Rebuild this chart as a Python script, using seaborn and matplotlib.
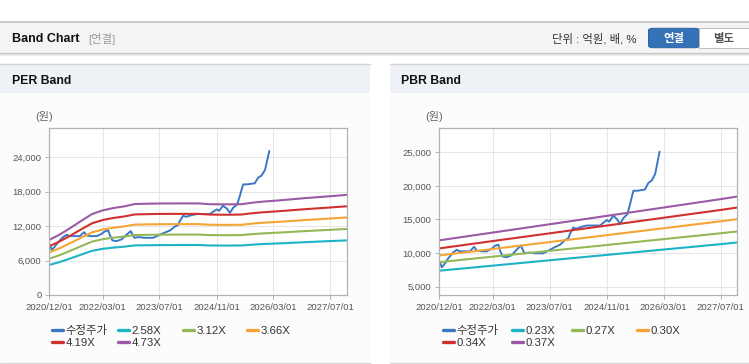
import numpy as np
import pandas as pd
import matplotlib
matplotlib.use("Agg")
import matplotlib.pyplot as plt
import seaborn as sns
from matplotlib.patches import Rectangle, FancyBboxPatch
from matplotlib.lines import Line2D

# ---------------- data ----------------
price_dates = ["2020-12-01", "2020-12-07", "2020-12-22", "2021-01-13", "2021-02-15", "2021-03-28",
               "2021-04-28", "2021-05-25", "2021-07-07", "2021-08-19", "2021-09-25", "2021-10-16",
               "2021-11-28", "2022-01-10", "2022-02-22", "2022-03-19", "2022-04-19", "2022-05-04",
               "2022-05-25", "2022-06-28", "2022-08-10", "2022-09-22", "2022-10-28", "2022-11-28",
               "2023-01-01", "2023-02-28", "2023-05-07", "2023-07-04", "2023-08-16", "2023-09-28",
               "2023-11-10", "2023-12-07", "2023-12-22", "2024-01-19", "2024-02-13", "2024-04-01",
               "2024-05-13", "2024-06-25", "2024-09-04", "2024-10-01", "2024-11-01", "2024-11-22",
               "2024-12-25", "2025-01-25", "2025-02-22", "2025-03-22", "2025-04-25", "2025-05-16",
               "2025-06-01", "2025-06-16", "2025-07-19", "2025-09-22", "2025-10-22", "2025-11-19",
               "2025-12-19", "2026-01-01", "2026-01-16", "2026-01-25"]
price_values = [8400, 8630, 7880, 8340, 9210, 10080,
                10490, 10260, 10260, 10260, 10950, 10370,
                10260, 10260, 10660, 11070, 11250, 10370,
                9500, 9390, 9680, 10490, 11130, 9970,
                10080, 9970, 9970, 10490, 10890, 11240,
                11940, 12180, 12870, 13810, 13630, 13920,
                14100, 14100, 14100, 14500, 14910, 14680,
                15550, 15090, 14330, 15200, 15790, 17130,
                18290, 19280, 19280, 19460, 20450, 20800,
                21790, 22950, 24290, 25100]

per_band_dates = ["2020-12-01", "2021-03-01", "2021-06-01", "2021-09-01", "2021-12-01", "2022-03-01",
                  "2022-06-01", "2022-09-01", "2022-12-01", "2023-06-01", "2023-12-01", "2024-06-01",
                  "2024-09-01", "2024-12-01", "2025-03-01", "2025-06-01", "2025-09-01", "2025-12-01",
                  "2026-06-01", "2026-12-01", "2027-06-01", "2027-11-20"]
per_258 = [5240, 5750, 6390, 7050, 7690, 8040, 8260, 8420, 8640, 8690, 8710, 8710,
           8630, 8620, 8620, 8630, 8770, 8880, 9030, 9210, 9370, 9520]
per_312 = [6330, 6950, 7720, 8530, 9300, 9720, 9990, 10180, 10450, 10510, 10530, 10530,
           10440, 10420, 10420, 10440, 10610, 10730, 10920, 11140, 11330, 11510]
per_366 = [7430, 8160, 9060, 10010, 10910, 11400, 11720, 11950, 12260, 12330, 12350, 12350,
           12240, 12220, 12220, 12240, 12440, 12590, 12810, 13070, 13290, 13510]
per_419 = [8510, 9340, 10370, 11460, 12490, 13060, 13420, 13680, 14040, 14120, 14140, 14140,
           14020, 13990, 13990, 14020, 14250, 14410, 14670, 14960, 15210, 15460]
per_473 = [9600, 10540, 11710, 12930, 14100, 14740, 15150, 15440, 15850, 15940, 15960, 15960,
           15820, 15800, 15800, 15820, 16080, 16270, 16560, 16890, 17170, 17450]

pbr_band_dates = ["2020-12-01", "2022-03-01", "2023-07-01", "2024-11-01", "2026-03-01",
                  "2027-07-01", "2027-11-20"]
pbr_023 = [7380, 8130, 8930, 9730, 10530, 11330, 11580]
pbr_027 = [8650, 9470, 10340, 11210, 12080, 12950, 13220]
pbr_030 = [9650, 10610, 11640, 12670, 13700, 14730, 15050]
pbr_034 = [10700, 11790, 12940, 14100, 15260, 16420, 16780]
pbr_037 = [11900, 13050, 14290, 15540, 16780, 18030, 18420]

per_labels = ["수정주가", "2.58X", "3.12X", "3.66X", "4.19X", "4.73X"]
pbr_labels = ["수정주가", "0.23X", "0.27X", "0.30X", "0.34X", "0.37X"]
x_tick_dates = ["2020-12-01", "2022-03-01", "2023-07-01", "2024-11-01", "2026-03-01", "2027-07-01"]
x_tick_labels = ["2020/12/01", "2022/03/01", "2023/07/01", "2024/11/01", "2026/03/01", "2027/07/01"]
per_yticks = [0, 6000, 12000, 18000, 24000]
pbr_yticks = [5000, 10000, 15000, 20000, 25000]

colors = ["#3b77c5", "#1db3c6", "#93b957", "#f4a533", "#d0312f", "#9a5aa6"]

# ---------------- style ----------------
sns.set_theme(style="white")
plt.rcParams["font.family"] = ["Liberation Sans", "Noto Sans CJK KR", "DejaVu Sans"]

W, H = 749, 364
fig = plt.figure(figsize=(W / 100, H / 100), dpi=100)
fig.patch.set_facecolor("white")


def fx(px):
    return px / W


def fy(py):
    return 1 - py / H


def rect(x0, y0, x1, y1, fc, ec="none", lw=0, z=-10):
    r = Rectangle((fx(x0), fy(y1)), (x1 - x0) / W, (y1 - y0) / H, transform=fig.transFigure,
                  facecolor=fc, edgecolor=ec, linewidth=lw, zorder=z)
    fig.add_artist(r)


def hline(x0, x1, y, c, lw=0.75, z=-9):
    fig.add_artist(Line2D([fx(x0), fx(x1)], [fy(y), fy(y)], transform=fig.transFigure,
                          color=c, linewidth=lw, zorder=z))


# header bar
hline(0, W, 22.3, "#bdbdbd", lw=1.1)
rect(0, 23, W, 52.5, "#f4f4f4")
hline(0, W, 52.7, "#c6c6c6", lw=0.9)
hline(0, W, 53.7, "#dedede", lw=0.8)
hline(0, W, 54.7, "#efefef", lw=0.8)

fig.text(fx(12), fy(39), "Band Chart", fontsize=9, fontweight="bold", color="#111111",
         va="center", ha="left")
fig.text(fx(88), fy(39), "[연결]", fontsize=8.2, color="#9a9a9a", va="center", ha="left")
fig.text(fx(551.5), fy(39), "단위 : 억원, 배, %", fontsize=8.2, color="#333333",
         va="center", ha="left")

# buttons
btn = FancyBboxPatch((fx(648.5), fy(47.7)), (699.3 - 648.5) / W, (47.7 - 28.3) / H,
                     boxstyle="round,pad=0,rounding_size=0.006", transform=fig.transFigure,
                     facecolor="#3571b6", edgecolor="#2c62a3", linewidth=0.7, zorder=-5)
fig.add_artist(btn)
rect(699.3, 28.3, 748.5, 47.7, "white", ec="#bdbdbd", lw=0.7, z=-5)
fig.text(fx(674), fy(38.3), "연결", fontsize=8.2, fontweight="bold", color="white",
         va="center", ha="center")
fig.text(fx(724), fy(38.3), "별도", fontsize=8.2, fontweight="bold", color="#555555",
         va="center", ha="center")

# panels
for (x0, x1) in [(0, 370), (390, W)]:
    rect(x0, 64.5, x1, 362.5, "#fcfcfc")
    rect(x0, 64.5, x1, 93, "#eef2f7")
    hline(x0, x1, 64.3, "#d6d6d6", lw=1.0)
    hline(x0, x1, 362.7, "#d9d9d9", lw=1.0)

fig.text(fx(12), fy(80.7), "PER Band", fontsize=8.8, fontweight="bold", color="#111111",
         va="center", ha="left")
fig.text(fx(401), fy(80.7), "PBR Band", fontsize=8.8, fontweight="bold", color="#111111",
         va="center", ha="left")
fig.text(fx(44), fy(117), "(원)", fontsize=8, color="#666666", va="center", ha="center")
fig.text(fx(434), fy(117), "(원)", fontsize=8, color="#666666", va="center", ha="center")

# axes
ax1 = fig.add_axes([fx(49.3), fy(295), (347 - 49.3) / W, (295 - 128) / H])
ax2 = fig.add_axes([fx(439.3), fy(295), (737.3 - 439.3) / W, (295 - 128.3) / H])

pdates = pd.to_datetime(price_dates)


def draw(ax, band_dates, bands, labels, yticks, ylim):
    bd = pd.to_datetime(band_dates)
    sns.lineplot(x=pdates, y=price_values, ax=ax, color=colors[0], linewidth=1.4,
                 label=labels[0], legend=False)
    for vals, c, lab in zip(bands, colors[1:], labels[1:]):
        sns.lineplot(x=bd, y=vals, ax=ax, color=c, linewidth=1.5, label=lab, legend=False)
    if ax.get_legend() is not None:
        ax.get_legend().remove()
    ax.set_facecolor("white")
    ax.set_xlim(pd.Timestamp("2020-12-01"), pd.Timestamp("2027-11-20"))
    ax.set_ylim(*ylim)
    ax.set_xticks(pd.to_datetime(x_tick_dates))
    ax.set_xticklabels(x_tick_labels)
    ax.set_yticks(yticks)
    ax.set_yticklabels([f"{v:,}" for v in yticks])
    ax.set_xlabel("")
    ax.set_ylabel("")
    ax.grid(True, color="#e6e6e6", linewidth=0.75)
    ax.set_axisbelow(True)
    for s in ax.spines.values():
        s.set_color("#b3b3b3")
        s.set_linewidth(0.9)
    ax.tick_params(axis="both", which="major", length=3, width=0.7, color="#b3b3b3",
                   labelsize=6.8, labelcolor="#555555", bottom=True, left=True)
    ax.tick_params(axis="x", pad=3.0)
    ax.tick_params(axis="y", pad=2.6)
    return ax.get_lines()


h1 = draw(ax1, per_band_dates, [per_258, per_312, per_366, per_419, per_473], per_labels,
          per_yticks, (0, 29100))
h2 = draw(ax2, pbr_band_dates, [pbr_023, pbr_027, pbr_030, pbr_034, pbr_037], pbr_labels,
          pbr_yticks, (3765, 28570))


def legend_items(handles, labels, xs, ys):
    for h, lab, x, y in zip(handles, labels, xs, ys):
        proxy = Line2D([], [], color=h.get_color(), linewidth=2.4)
        fig.legend(handles=[proxy], labels=[lab], loc="center left",
                   bbox_to_anchor=(fx(x), fy(y)), frameon=False, fontsize=8.2,
                   handlelength=0.97, handletextpad=0.22, borderpad=0, borderaxespad=0,
                   labelcolor="#333333")


legend_items(h1, per_labels, [52.3, 118.3, 182.7, 247.3, 52.3, 118.3],
             [330.7, 330.7, 330.7, 330.7, 343.3, 343.3])
legend_items(h2, pbr_labels, [442.7, 511.7, 572.3, 637.3, 442.7, 511.7],
             [330.7, 330.7, 330.7, 330.7, 343.3, 343.3])

fig.savefig("out.png", dpi=100, facecolor="white")
